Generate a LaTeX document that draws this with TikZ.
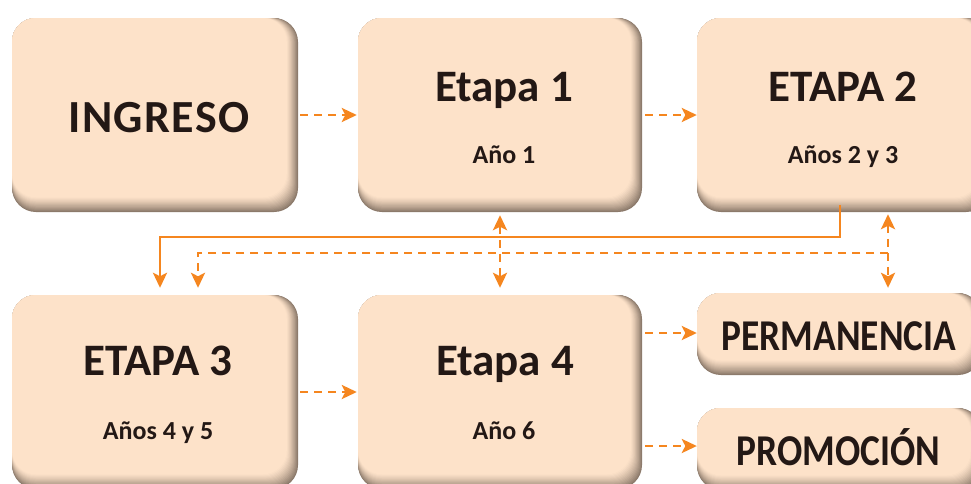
\documentclass[tikz,border=0pt]{standalone}
\usepackage{fontspec}
\usepackage{graphicx}
\setmainfont{Carlito}
\newfontfamily\spacedfont[LetterSpace=3]{Carlito}
\usetikzlibrary{arrows.meta,fit}
\definecolor{peach}{HTML}{FDE2C9}
\definecolor{shadowc}{HTML}{8C7A6B}
\definecolor{orng}{HTML}{F5861F}
\definecolor{txt}{HTML}{231815}
\newcommand\softbox[5]{%
  \foreach \i in {0,...,14}{%
    \pgfmathtruncatemacro\p{100*(1-\i/14)^1.3}%
    \fill[rounded corners=24pt, shadowc!\p!peach] (#2,#3) rectangle ({#4-\i*0.8},{#5-\i*1.05});
  }%
  \node[fit={(#2,#3) (#4,#5)}, inner sep=0pt, draw=none] (#1) {};
}
\tikzset{
  big/.style={anchor=base, text=txt, font=\fontsize{45}{50}\selectfont\bfseries},
  small/.style={anchor=base, text=txt, font=\fontsize{26}{30}\selectfont\bfseries},
  tip/.tip={Stealth[length=15pt,width=14pt,inset=3.5pt]},
  dasharrow/.style={draw=orng, line width=2.8pt, dash pattern=on 8pt off 6pt, -tip},
  dashboth/.style={draw=orng, line width=2.8pt, dash pattern=on 8pt off 6pt, tip-tip},
  solidarrow/.style={draw=orng, line width=2.8pt, -tip},
}
\begin{document}
\begin{tikzpicture}[x=1pt,y=-1pt]
\useasboundingbox (0,0) rectangle (971,483);
\clip (0,0) rectangle (971,483);
\fill[white] (0,0) rectangle (971,483);
% boxes
\softbox{ing}{12}{18}{298}{212}
\softbox{e1}{358}{18}{642}{212}
\softbox{e2}{697}{18}{990}{212}
\softbox{e3}{12}{295}{298}{489}
\softbox{e4}{358}{295}{642}{489}
\softbox{pm}{697}{293}{982}{375}
\softbox{pr}{697}{408}{982}{490}
% texts
\node[big, font=\fontsize{46}{52}\spacedfont\bfseries] (tIng) at (159,132) {INGRESO};
\node[big] (tE1) at (504,101) {Etapa 1};
\node[small] (sE1) at (504,163) {Año 1};
\node[big] (tE2) at (843,101) {ETAPA 2};
\node[small] (sE2) at (843,163) {Años 2 y 3};
\node[big] (tE3) at (158,375) {ETAPA 3};
\node[small] (sE3) at (158,439) {Años 4 y 5};
\node[big] (tE4) at (505,375) {Etapa 4};
\node[small] (sE4) at (504,439) {Año 6};
\node[big, font=\fontsize{44}{48}\selectfont\bfseries] (tPm) at (839,350) {\scalebox{0.85}[1]{PERMANENCIA}};
\node[big, font=\fontsize{44}{48}\selectfont\bfseries] (tPr) at (838.5,465) {\scalebox{0.85}[1]{PROMOCIÓN}};
% coordinates
\coordinate (rx) at (888,0);
\coordinate (sx) at (840,0);
\coordinate (j1) at (160,237);
\coordinate (d1) at (888,253);
\coordinate (d2) at (198,253);
% connectors
\draw[dasharrow, shorten <=2pt, shorten >=1pt] (ing.east) -- (e1.west);
\draw[dasharrow, shorten <=3pt] (e1.east) -- (e2.west);
\draw[dasharrow, shorten <=2pt, shorten >=1pt] (e3.east) -- (e4.west);
\draw[dasharrow, shorten <=3pt] ([yshift=1pt]e4.east |- pm.west) -- ([yshift=1pt]pm.west);
\draw[dasharrow, shorten <=3pt] ([yshift=3pt]e4.east |- pr.west) -- ([yshift=3pt]pr.west);
\draw[dashboth, shorten <=3pt, shorten >=7pt] (e1.south) -- (e4.north);
\draw[dashboth, shorten <=2pt, shorten >=5pt] (e2.south -| rx) -- (pm.north -| rx);
\draw[solidarrow, shorten >=7pt] ([yshift=7pt]e2.south -| sx) |- (j1) -- (j1 |- e3.north);
\draw[dasharrow, shorten >=7pt] (d1) -- (d2) -- (d2 |- e3.north);
\end{tikzpicture}
\end{document}
